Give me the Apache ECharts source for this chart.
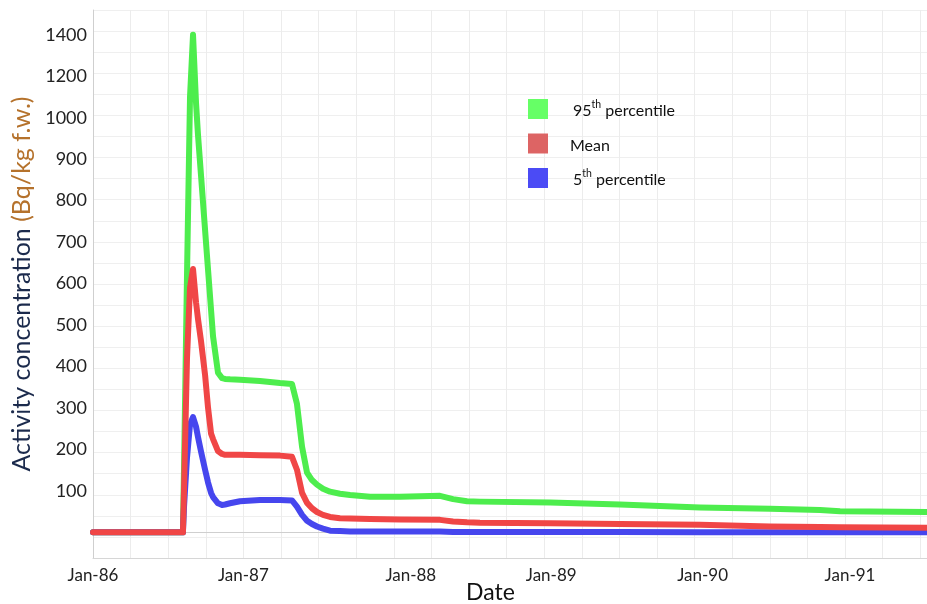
<!DOCTYPE html>
<html>
<head>
<meta charset="utf-8">
<script src="https://cdn.jsdelivr.net/npm/echarts@6/dist/echarts.min.js"></script>
<style>
html,body{margin:0;padding:0;background:#fff;}
#c{width:927px;height:604px;}
</style>
</head>
<body>
<div id="c"></div>
<script>
const dates = [1986.000, 1986.598, 1986.605, 1986.625, 1986.645, 1986.665, 1986.685, 1986.698, 1986.718, 1986.745,
  1986.765, 1986.785, 1986.798, 1986.831, 1986.858, 1986.878, 1986.911, 1986.977, 1987.110, 1987.243,
  1987.323, 1987.356, 1987.390, 1987.423, 1987.456, 1987.489, 1987.529, 1987.576, 1987.642, 1987.709,
  1987.842, 1988.041, 1988.307, 1988.394, 1988.487, 1988.573, 1989.039, 1989.504, 1990.036, 1990.501,
  1990.834, 1990.967, 1991.545, 1992.000];
const p95 = [0, 0, 150, 620, 1100, 1400, 1072, 959, 862, 730,
  633, 536, 473, 385, 372, 370, 369, 368, 365, 360,
  358, 310, 206, 144, 126, 115, 105, 98, 93, 90,
  86, 86, 88, 80, 75, 74, 72, 67, 60, 57,
  54, 51, 49, 48];
const mean = [0, 0, 100, 420, 590, 635, 555, 515, 462, 380,
  300, 238, 225, 196, 189, 187, 187, 187, 186, 185,
  182, 151, 95, 71, 58, 49, 42, 37, 34, 33,
  32, 31, 30, 26, 24, 23, 22, 20, 18, 14,
  13, 12, 11, 10];
const p5 = [0, 0, 60, 180, 260, 278, 255, 230, 195, 151,
  120, 95, 85, 70, 66, 67, 70, 75, 78, 78,
  77, 62, 42, 28, 20, 14, 9, 4, 3, 2,
  2, 2, 2, 1, 1, 1, 1, 1, 0, 0,
  0, 0, 0, 0];
const seriesNames = ['95th percentile', 'Mean', '5th percentile'];
const xTickLabels = ['Jan-86', 'Jan-87', 'Jan-88', 'Jan-89', 'Jan-90', 'Jan-91'];
const yTickLabels = ['100', '200', '300', '400', '500', '600', '700', '800', '900', '1000', '1200', '1400'];

// The original axis is evenly spaced per label: 100 per step up to 1000, then 200 per step.
function toAxis(v) { return v <= 1000 ? v : 1000 + (v - 1000) / 2; }
const yTickPos = yTickLabels.map(l => toAxis(Number(l)));

const FONT = 'Lato, "Open Sans", sans-serif';
const labelShift = [0, 0, 17, 7, 8, 5];
const X_MIN = 1986, X_MAX = 1991.545;

function mk(vals) { return dates.map((d, i) => [d, toAxis(vals[i])]); }

const rich = {};
labelShift.forEach((s, i) => {
  rich['l' + i] = { fontSize: 17, color: '#222', fontFamily: FONT, padding: [0, 0, 0, 2 * s] };
});

const legendRich = {
  g: { width: 20, lineHeight: 20 },
  h: { width: 17, lineHeight: 20 },
  n: { fontSize: 16, color: '#111', fontFamily: FONT, lineHeight: 20, verticalAlign: 'bottom' },
  s: { fontSize: 10.5, color: '#111', fontFamily: FONT, lineHeight: 11, verticalAlign: 'top' }
};

const chart = echarts.init(document.getElementById('c'), null, { renderer: 'canvas' });
chart.setOption({
  animation: false,
  backgroundColor: '#fff',
  title: {
    text: 'Date', left: 461, top: 576,
    textStyle: { fontSize: 23, fontWeight: 'normal', color: '#111', fontFamily: FONT }
  },
  legend: {
    orient: 'vertical', left: 523, top: 94,
    itemWidth: 20, itemHeight: 20, itemGap: 14.5, icon: 'rect',
    data: [
      { name: seriesNames[0], itemStyle: { color: '#66ff66' } },
      { name: seriesNames[1], itemStyle: { color: '#dd6464' } },
      { name: seriesNames[2], itemStyle: { color: '#4b4bf5' } }
    ],
    formatter: function (name) {
      const m = name.match(/^(\d+)(th)(.*)$/);
      if (m) return '{g|}{n|' + m[1] + '}{s|' + m[2] + '}{n|' + m[3] + '}';
      return '{h|}{n|' + name + '}';
    },
    textStyle: { rich: legendRich }
  },
  grid: { left: 93, top: 10, right: 0, height: 548, show: false },
  xAxis: [{
    type: 'value', min: X_MIN, max: X_MAX, interval: 0.25,
    axisLine: { show: true, lineStyle: { color: '#cfcfcf' } },
    axisTick: { show: false },
    splitLine: { show: true, lineStyle: { color: '#ececec' } },
    axisLabel: {
      margin: 9, showMaxLabel: false,
      formatter: function (v) {
        const r = Math.round(v);
        if (Math.abs(v - r) > 1e-6) return '';
        const i = r - 1986;
        if (i < 0 || i >= xTickLabels.length) return '';
        return '{l' + i + '|' + xTickLabels[i] + '}';
      },
      rich: rich
    }
  }, {
    type: 'value', min: X_MIN, max: X_MAX, position: 'top',
    axisLine: { show: true, lineStyle: { color: '#d6d6d6' } },
    axisTick: { show: false }, axisLabel: { show: false }, splitLine: { show: false }
  }],
  yAxis: [{
    type: 'value', min: -62, max: 1260,
    axisLine: { show: true, lineStyle: { color: '#cfcfcf' } },
    axisTick: { show: false },
    splitLine: { show: false },
    axisLabel: {
      customValues: yTickPos,
      margin: 6, fontSize: 18, color: '#222', fontFamily: FONT,
      formatter: function (v) {
        const i = yTickPos.indexOf(v);
        return i >= 0 ? yTickLabels[i] : '';
      }
    },
    name: '{a|Activity concentration }{b|(Bq/kg f.w.)}',
    nameLocation: 'middle', nameRotate: 90, nameGap: 55,
    nameTextStyle: {
      rich: {
        a: { fontSize: 25, color: '#1b2a4c', fontFamily: FONT },
        b: { fontSize: 25, color: '#b5722c', fontFamily: FONT }
      }
    }
  }, {
    type: 'value', min: 0, max: 26, interval: 1, position: 'right',
    axisLine: { show: false }, axisTick: { show: false }, axisLabel: { show: false },
    splitLine: { show: true, lineStyle: { color: '#efefef' } }
  }],
  series: [
    { name: seriesNames[0], type: 'line', yAxisIndex: 0, data: mk(p95), showSymbol: false, z: 2,
      itemStyle: { color: '#4ded4d' }, lineStyle: { width: 6, color: '#4ded4d', join: 'round', cap: 'round' } },
    { name: seriesNames[2], type: 'line', yAxisIndex: 0, data: mk(p5), showSymbol: false, z: 3,
      itemStyle: { color: '#4646ee' }, lineStyle: { width: 6, color: '#4646ee', join: 'round', cap: 'round' } },
    { name: seriesNames[1], type: 'line', yAxisIndex: 0, data: mk(mean), showSymbol: false, z: 4,
      itemStyle: { color: '#f04646' }, lineStyle: { width: 6, color: '#f04646', join: 'round', cap: 'round' } }
  ]
});
</script>
</body>
</html>
